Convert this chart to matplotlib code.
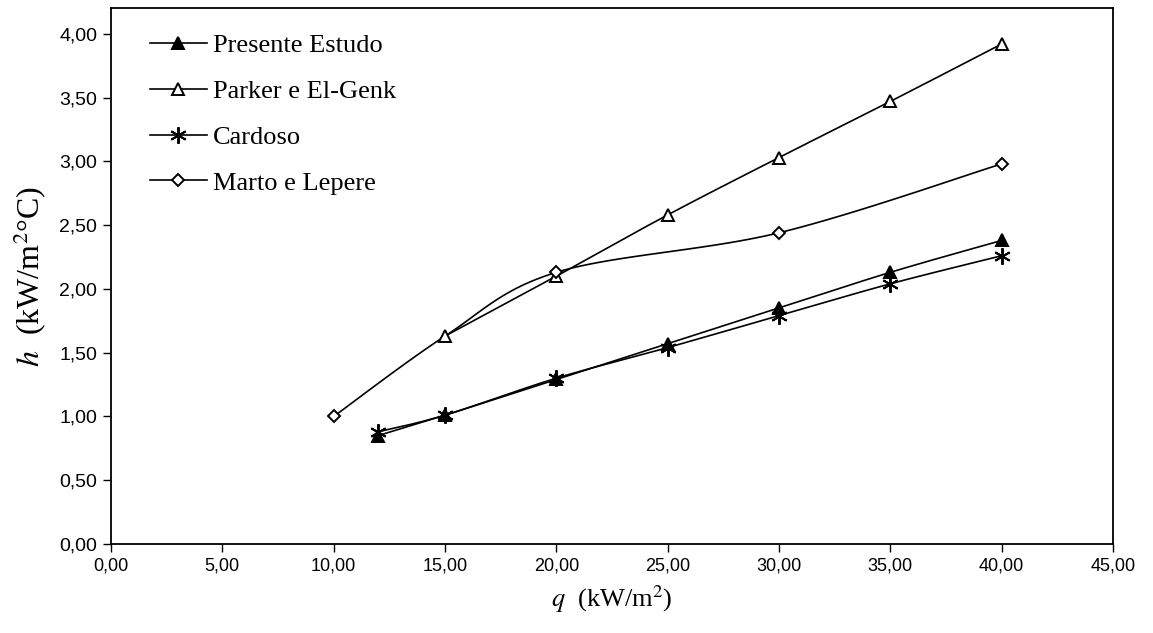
import numpy as np
import matplotlib
matplotlib.use('Agg')
import matplotlib.pyplot as plt
from matplotlib.ticker import FuncFormatter, MultipleLocator

# dados
q_presente = [12, 15, 20, 25, 30, 35, 40]
h_presente = [0.85, 1.01, 1.29, 1.57, 1.85, 2.13, 2.38]

q_parker = [15, 20, 25, 30, 35, 40]
h_parker = [1.63, 2.10, 2.58, 3.03, 3.47, 3.92]

q_cardoso = [12, 15, 20, 25, 30, 35, 40]
h_cardoso = [0.88, 1.01, 1.30, 1.54, 1.79, 2.04, 2.26]

q_marto = [10, 15, 20, 30, 40]
h_marto = [1.00, 1.63, 2.13, 2.44, 2.98]
marto_marks = [0, 2, 3, 4]  # ponto em 15 fica escondido sob o triângulo

labels = ['Presente Estudo', 'Parker e El-Genk', 'Cardoso', 'Marto e Lepere']


def smooth(x, y, n=30):
    """Curva suavizada tipo Excel (Bezier com tangentes Catmull-Rom)."""
    p = np.column_stack([x, y]).astype(float)
    pts = np.vstack([p[0], p, p[-1]])
    t = np.linspace(0, 1, n)[:, None]
    out = []
    for i in range(1, len(pts) - 2):
        p0, p1, p2, p3 = pts[i - 1], pts[i], pts[i + 1], pts[i + 2]
        c1 = p1 + (p2 - p0) / 6
        c2 = p2 - (p3 - p1) / 6
        seg = ((1 - t) ** 3) * p1 + 3 * ((1 - t) ** 2) * t * c1 + 3 * (1 - t) * t ** 2 * c2 + t ** 3 * p2
        out.append(seg if i == 1 else seg[1:])
    out = np.vstack(out)
    return out[:, 0], out[:, 1]


plt.rcParams['mathtext.fontset'] = 'stix'
serif = 'Liberation Serif'

fig = plt.figure(figsize=(11.53, 6.33), dpi=100)
ax = fig.add_axes([0.0963, 0.1406, 0.869, 0.8463])

lw = 1.2
ms = 8
star = (6, 2, 0)

series = [
    (q_presente, h_presente, dict(marker='^', mfc='black', mec='black'), None),
    (q_parker, h_parker, dict(marker='^', mfc='white', mec='black'), None),
    (q_cardoso, h_cardoso, dict(marker=star, mfc='black', mec='black', markersize=12), None),
    (q_marto, h_marto, dict(marker='D', mfc='white', mec='black', markersize=6.5), marto_marks),
]

handles = []
for (x, y, mk, every), lab in zip(series, labels):
    sx, sy = smooth(x, y)
    ax.plot(sx, sy, color='black', lw=lw, zorder=2)
    opts = dict(markersize=ms, mew=1.4, ls='none', zorder=3)
    opts.update(mk)
    xm = x if every is None else [x[i] for i in every]
    ym = y if every is None else [y[i] for i in every]
    ax.plot(xm, ym, **opts)
    h, = ax.plot([], [], color='black', lw=lw, **{k: v for k, v in opts.items() if k not in ('ls',)})
    handles.append(h)

ax.set_xlim(0, 45)
ax.set_ylim(0, 4.2)
ax.xaxis.set_major_locator(MultipleLocator(5))
ax.yaxis.set_major_locator(MultipleLocator(0.5))
fmt = FuncFormatter(lambda v, pos: f'{v:.2f}'.replace('.', ','))
ax.xaxis.set_major_formatter(fmt)
ax.yaxis.set_major_formatter(fmt)
ax.tick_params(direction='out', length=6, width=1, pad=4)
ax.tick_params(axis='x', labelsize=13)
ax.tick_params(axis='y', labelsize=14)
for lab in ax.get_xticklabels() + ax.get_yticklabels():
    lab.set_family('Liberation Sans')
for s in ax.spines.values():
    s.set_linewidth(1.3)

ax.set_xlabel(r'$q$  (kW/m$^2$)', fontsize=19, family=serif, labelpad=6)
ax.set_ylabel(r'$h$  (kW/m$^2$°C)', fontsize=23, family=serif, labelpad=7)

leg = ax.legend(handles, labels, loc='upper left', bbox_to_anchor=(0.028, 0.9726),
                frameon=False, prop={'family': serif, 'size': 19},
                handlelength=2.16, handletextpad=0.23, labelspacing=0.85, borderaxespad=0)

fig.savefig('out.png', dpi=100)
